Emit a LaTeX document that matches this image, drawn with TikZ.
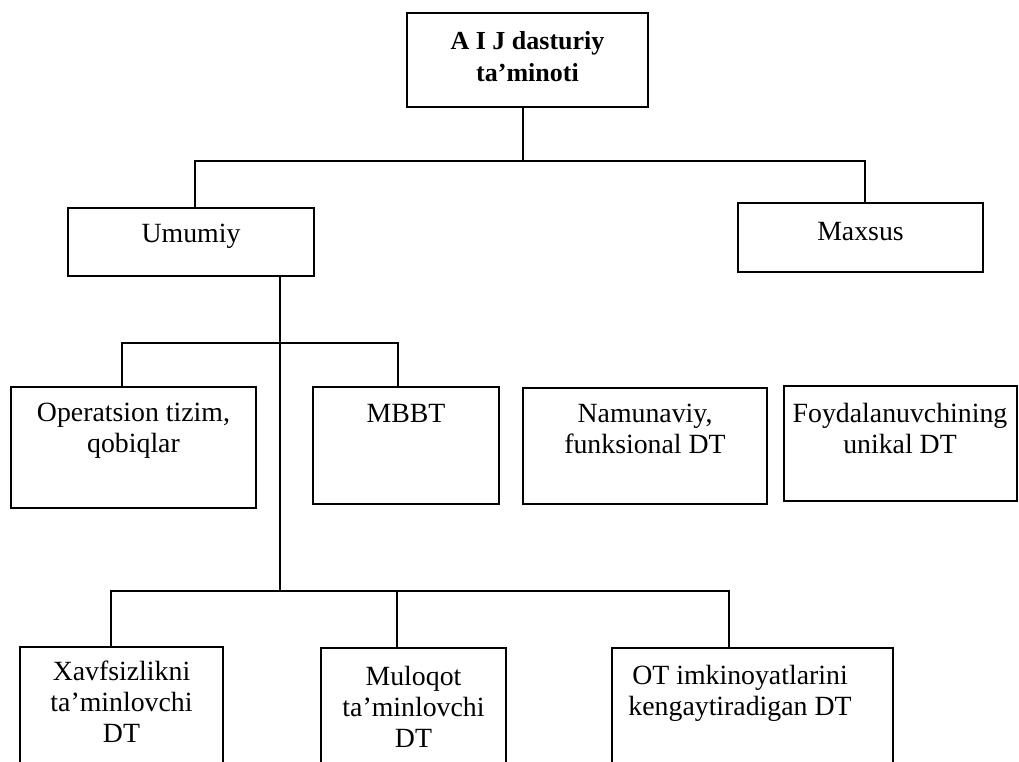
\documentclass[tikz,border=0pt]{standalone}
\usepackage{fontspec}
\setmainfont{Liberation Serif}
\begin{document}
\begin{tikzpicture}[x=1pt,y=-1pt,
  box/.style={draw, line width=1.6pt, rectangle, inner sep=0pt},
  txt/.style={inner sep=0pt, align=center, font=\fontsize{27.8}{31}\selectfont},
  conn/.style={line width=1.6pt}]
  \clip (0,0) rectangle (1019,761);
  \fill[white] (0,0) rectangle (1019,761);

  % boxes
  \node[box, minimum width=241pt, minimum height=94pt]  (top)    at (527.5,60)   {};
  \node[box, minimum width=246pt, minimum height=68pt]  (umumiy) at (191,242)    {};
  \node[box, minimum width=245pt, minimum height=69pt]  (maxsus) at (860.5,237.5){};
  \node[box, minimum width=245pt, minimum height=121pt] (op)     at (133.5,447.5){};
  \node[box, minimum width=186pt, minimum height=117pt] (mbbt)   at (406,445.5)  {};
  \node[box, minimum width=244pt, minimum height=116pt] (nam)    at (645,446)    {};
  \node[box, minimum width=233pt, minimum height=115pt] (foy)    at (900.5,443.5){};
  \node[box, minimum width=203pt, minimum height=130pt] (xav)    at (121.5,712)  {};
  \node[box, minimum width=185pt, minimum height=130pt] (mul)    at (413.5,713)  {};
  \node[box, minimum width=281pt, minimum height=130pt] (ot)     at (752.5,713)  {};

  % texts
  \node[txt, anchor=north, font=\fontsize{26}{32}\selectfont\bfseries] (t-top) at (527.5,31) {A I J dasturiy\\ta’minoti};
  \node[txt, anchor=base] (t-umumiy) at (191,242) {Umumiy};
  \node[txt, anchor=base] (t-maxsus) at (860.5,240) {Maxsus};
  \node[txt, anchor=north] (t-op)   at (133.5,403) {Operatsion tizim,\\qobiqlar};
  \node[txt, anchor=base]  (t-mbbt) at (406,422) {MBBT};
  \node[txt, anchor=north] (t-nam)  at (645,404) {Namunaviy,\\funksional DT};
  \node[txt, anchor=north] (t-foy)  at (900,403) {Foydalanuvchining\\unikal DT};
  \node[txt, anchor=north] (t-xav)  at (121.5,661) {Xavfsizlikni\\ta’minlovchi\\DT};
  \node[txt, anchor=north] (t-mul)  at (413.5,666) {Muloqot\\ta’minlovchi\\DT};
  \node[txt, anchor=north] (t-ot)   at (740,665) {OT imkinoyatlarini\\kengaytiradigan DT};

  % connectors
  \coordinate (bar1) at (0,161);
  \coordinate (trunk) at (280,592);
  \draw[conn] ([xshift=-4.5pt]top.south) -- ([xshift=-4.5pt]top.south |- bar1);
  \draw[conn] ([xshift=4pt]umumiy.north) -- ([xshift=4pt]umumiy.north |- bar1) -| ([xshift=4.5pt]maxsus.north);
  \draw[conn] (umumiy.south -| trunk) -- (trunk);
  \draw[conn] ([xshift=-11.5pt]op.north) -- ++(0,-43) -| ([xshift=-8pt]mbbt.north);
  \draw[conn] ([xshift=-10.5pt]xav.north) -- ++(0,-55) -| ([xshift=-23.5pt]ot.north);
  \draw[conn] ([xshift=-16.5pt]mul.north) -- ++(0,-56);
\end{tikzpicture}
\end{document}
